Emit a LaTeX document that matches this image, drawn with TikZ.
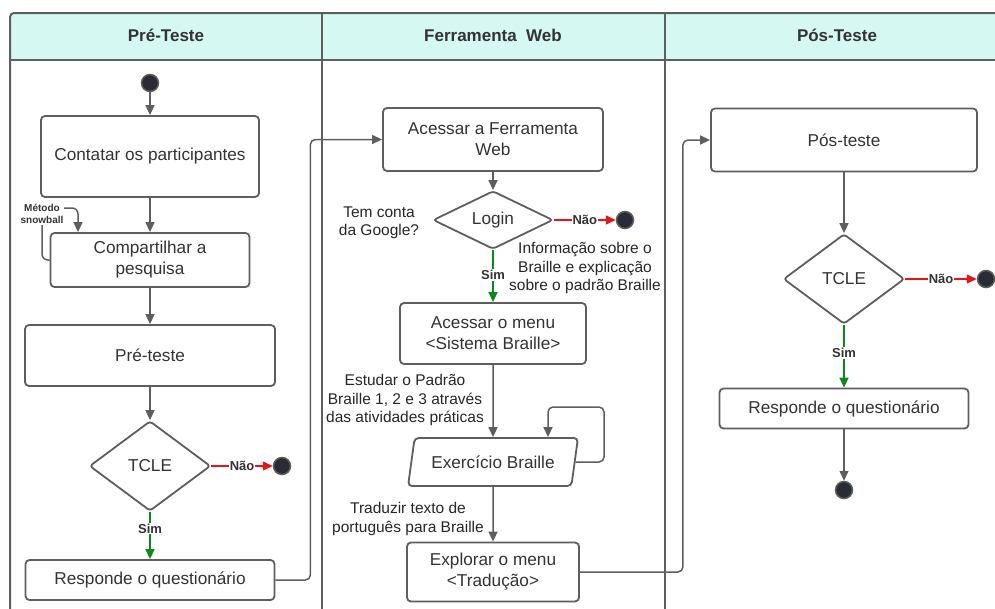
\documentclass[tikz,border=0pt]{standalone}
\usepackage{fontspec}
\setmainfont{Liberation Sans}
\usepackage{tikz}
\usetikzlibrary{arrows.meta,shapes,shapes.geometric,positioning}

\definecolor{lineGray}{HTML}{5E5E5E}
\definecolor{textGray}{HTML}{333333}
\definecolor{headFill}{HTML}{D6F8F2}
\definecolor{dotFill}{HTML}{282C34}
\definecolor{noRed}{HTML}{E81416}
\definecolor{yesGreen}{HTML}{0A8A1A}

\begin{document}
\begin{tikzpicture}[x=1pt, y=-1pt,
    lane style/.style={draw=lineGray, line width=2pt},
    head style/.style={text=textGray, font=\fontsize{17}{20}\selectfont\bfseries},
    box style/.style={draw=lineGray, line width=1.8pt, rounded corners=4pt, fill=white, text=textGray, align=center, inner sep=0pt, font=\fontsize{17.2}{21}\selectfont},
    decision style/.style={diamond, draw=lineGray, line width=1.8pt, rounded corners=3pt, fill=white, text=textGray, inner sep=0pt, font=\fontsize{17.2}{21}\selectfont},
    exercise style/.style={trapezium, trapezium left angle=68, trapezium right angle=112, trapezium stretches=true, draw=lineGray, line width=1.8pt, rounded corners=4pt, fill=white, text=textGray, inner sep=0pt, font=\fontsize{17.2}{21}\selectfont},
    dot style/.style={circle, draw=lineGray, line width=1.5pt, fill=dotFill, minimum size=17pt, inner sep=0pt},
    note style/.style={text=black!85, align=center, inner sep=1pt, font=\fontsize{15.5}{18.5}\selectfont},
    choice style/.style={fill=white, text=textGray, inner sep=1pt, font=\fontsize{13}{15}\selectfont\bfseries},
    flow/.style={draw=lineGray, line width=1.5pt, -{Triangle[length=10pt,width=9pt]}},
    no flow/.style={draw=noRed, line width=1.5pt, -{Triangle[length=10pt,width=9pt]}},
    yes flow/.style={draw=yesGreen, line width=1.5pt, -{Triangle[length=10pt,width=9pt]}}
]
\useasboundingbox (0,0) rectangle (995,608);
\clip (0,0) rectangle (995,608);

% swimlanes
\fill[headFill, rounded corners=4pt] (10,60) -- (10,13) -- (1010,13) -- (1010,60) -- cycle;
\draw[lane style, rounded corners=4pt] (10,620) -- (10,13) -- (1010,13);
\draw[lane style] (10,60) -- (1010,60);
\draw[lane style] (322,13) -- (322,620);
\draw[lane style] (665,13) -- (665,620);
\node[head style] (hPre) at (166,35) {Pré-Teste};
\node[head style] (hWeb) at (493,35) {Ferramenta\ \ Web};
\node[head style] (hPos) at (837,35) {Pós-Teste};

% Pre-Teste
\node[dot style] (start1) at (150,83) {};
\node[box style, minimum width=218pt, minimum height=81pt] (contatar) at (150,156.5) {Contatar os participantes};
\node[box style, minimum width=199pt, minimum height=54pt] (compartilhar) at (150,260) {Compartilhar a\\pesquisa};
\node[box style, minimum width=250pt, minimum height=61pt] (preteste) at (150,355.5) {Pré-teste};
\node[decision style, minimum width=121pt, minimum height=90pt] (tcle1) at (150,466) {TCLE};
\node[dot style] (end1) at (282,466) {};
\node[box style, minimum width=249pt, minimum height=40pt] (resp1) at (150,580) {Responde o questionário};
\coordinate (snowTop) at (78,208);

% Ferramenta Web
\node[box style, minimum width=220pt, minimum height=63pt] (acessar) at (493,139.5) {Acessar a Ferramenta\\Web};
\node[decision style, minimum width=120pt, minimum height=40pt] (login) at (493,220) {Login};
\node[dot style] (end2) at (625,220) {};
\node[box style, minimum width=186pt, minimum height=61pt] (menuSistema) at (493,333.5) {Acessar o menu\\<Sistema Braille>};
\node[exercise style, minimum width=170pt, minimum height=48pt] (exercicio) at (493,462) {Exercício Braille};
\node[box style, minimum width=172pt, minimum height=59pt] (explorar) at (493,572) {Explorar o menu\\<Tradução>};
\node[note style] (googleQ) at (379,223) {Tem conta\\da Google?};
\node[note style] (infoText) at (585,268) {Informação sobre o\\Braille e explicação\\sobre o padrão Braille};
\node[note style] (studyText) at (405,400) {Estudar o Padrão\\Braille 1, 2 e 3 através\\das atividades práticas};
\node[note style] (traduzirText) at (408,519) {Traduzir texto de\\português para Braille};
\coordinate (loopTop) at (604,407);

% Pos-Teste
\node[box style, minimum width=266pt, minimum height=63pt] (posteste) at (844,140) {Pós-teste};
\node[decision style, minimum width=121pt, minimum height=90pt] (tcle2) at (844,279) {TCLE};
\node[dot style] (end3) at (986,279) {};
\node[box style, minimum width=249pt, minimum height=40pt] (resp2) at (844,408.5) {Responde o questionário};
\node[dot style] (end4) at (844,490) {};

% connectors
\draw[flow] (start1) -- (contatar);
\draw[flow] (contatar) -- (compartilhar);
\draw[flow, rounded corners=6pt] (compartilhar.west) -| (42,208) -- (snowTop) -- (compartilhar.north -| snowTop);
\node[fill=white, text=textGray, align=center, inner sep=1pt, font=\fontsize{10}{12.5}\selectfont\bfseries] (snowball) at (42,214) {Método\\snowball};
\draw[flow] (compartilhar) -- (preteste);
\draw[flow] (preteste) -- (tcle1);
\draw[no flow] (tcle1) -- node[choice style] {Não} (end1);
\draw[yes flow] (tcle1) -- node[choice style, pos=0.35] {Sim} (resp1);
\draw[flow, rounded corners=5pt] (resp1.east) -- ++(35,0) |- (acessar.west);

\draw[flow] (acessar) -- (login);
\draw[no flow] (login) -- node[choice style] {Não} (end2);
\draw[yes flow] (login) -- node[choice style, pos=0.48] {Sim} (menuSistema);
\draw[flow] (menuSistema) -- (exercicio);
\draw[flow, rounded corners=5pt] (exercicio.east) -| (loopTop) -| ([xshift=55pt]exercicio.north);
\draw[flow] (exercicio) -- (explorar);
\draw[flow, rounded corners=5pt] (explorar.east) -- ++(103,0) |- (posteste.west);

\draw[flow] (posteste) -- (tcle2);
\draw[no flow] (tcle2) -- node[choice style] {Não} (end3);
\draw[yes flow] (tcle2) -- node[choice style, pos=0.45] {Sim} (resp2);
\draw[flow] (resp2) -- (end4);
\end{tikzpicture}
\end{document}
